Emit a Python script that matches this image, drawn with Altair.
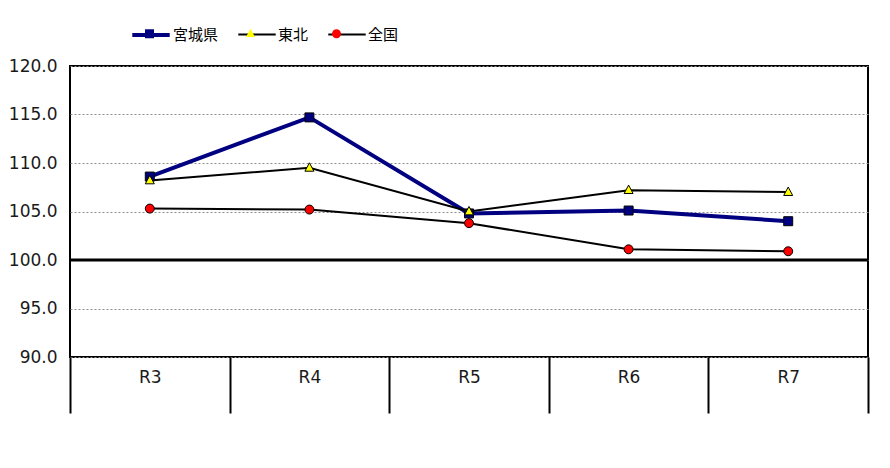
import altair as alt
import pandas as pd

periods = ["R3", "R4", "R5", "R6", "R7"]
series_names = ["宮城県", "東北", "全国"]
miyagi = [108.6, 114.7, 104.8, 105.1, 104.0]
tohoku = [108.2, 109.5, 105.0, 107.2, 107.0]
zenkoku = [105.3, 105.2, 103.8, 101.1, 100.9]
baseline = [100.0]
y_ticks = [90.0, 95.0, 100.0, 105.0, 110.0, 115.0, 120.0]

LINE_COLORS = ["#000080", "#000000", "#000000"]
LINE_WIDTHS = [4, 2, 2]
FILL_COLORS = ["#000080", "#ffff00", "#ff0000"]
# marker paths in the [-1, 1] symbol box (drawn with size=1400)
SHAPES = [
    "M-0.24,-0.24H0.24V0.24H-0.24Z",
    "M0,-0.27L0.24,0.18L-0.24,0.18Z",
    "M-0.24,0A0.24,0.24,0,1,1,0.24,0A0.24,0.24,0,1,1,-0.24,0Z",
]

rows = []
for name, values in zip(series_names, [miyagi, tohoku, zenkoku]):
    for period, value in zip(periods, values):
        rows.append({"period": period, "series": name, "marker": name, "value": value})
df = pd.DataFrame(rows)

# marker scales use the reversed domain so their legend stays apart from the line legend
marker_domain = series_names[::-1]

x = alt.X(
    "period:N",
    sort=periods,
    bandPosition=0.5,
    scale=alt.Scale(type="band", paddingInner=0, paddingOuter=0),
    axis=alt.Axis(
        title=None, labelAngle=0, domain=False, grid=False,
        tickBand="extent", tickSize=56, tickWidth=2, tickColor="black",
        labelPadding=-44, labelFont="DejaVu Sans", labelFontSize=17, labelColor="#1a1a1a",
    ),
)
y = alt.Y(
    "value:Q",
    scale=alt.Scale(domain=[90, 120], nice=False, zero=False),
    axis=alt.Axis(
        title=None, values=y_ticks, format=".1f", ticks=False, domain=False,
        labelPadding=13, labelFont="DejaVu Sans", labelFontSize=17, labelColor="#1a1a1a",
        gridColor="#8c8c8c", gridDash=[2, 2], gridWidth=1,
    ),
)

legend_common = dict(
    title=None, orient="none", legendX=60, legendY=-52, direction="horizontal",
    symbolSize=1400, labelFont="Noto Sans CJK JP", labelFontSize=15, labelColor="black",
    labelOffset=1, columnPadding=15, padding=0, values=series_names,
)
line_legend = alt.Legend(symbolType="stroke", **legend_common)
marker_legend = alt.Legend(
    symbolStrokeColor="black", symbolStrokeWidth=1, symbolOpacity=1, labelOpacity=0, **legend_common
)

rule = (
    alt.Chart(pd.DataFrame({"value": baseline}))
    .mark_rule(color="black", strokeWidth=3)
    .encode(y=y)
)

lines = (
    alt.Chart(df)
    .mark_line()
    .encode(
        x=x,
        y=y,
        color=alt.Color("series:N", scale=alt.Scale(domain=series_names, range=LINE_COLORS), legend=line_legend),
        strokeWidth=alt.StrokeWidth(
            "series:N",
            scale=alt.Scale(type="ordinal", domain=series_names, range=LINE_WIDTHS),
            legend=line_legend,
        ),
    )
)

points = (
    alt.Chart(df)
    .mark_point(filled=True, size=1400, stroke="black", strokeWidth=1, opacity=1)
    .encode(
        x=x,
        y=y,
        fill=alt.Fill(
            "marker:N", scale=alt.Scale(domain=marker_domain, range=FILL_COLORS[::-1]), legend=marker_legend
        ),
        shape=alt.Shape(
            "marker:N", scale=alt.Scale(domain=marker_domain, range=SHAPES[::-1]), legend=marker_legend
        ),
    )
)

chart = (
    alt.layer(rule, lines, points)
    .properties(
        width=798,
        height=291,
        padding={"left": 62, "top": 58, "right": 10, "bottom": 95},
        autosize=alt.AutoSizeParams(type="none"),
    )
    .configure_view(stroke="black", strokeWidth=2)
)

chart.save("out.html", embed_options={"renderer": "svg", "actions": False})
